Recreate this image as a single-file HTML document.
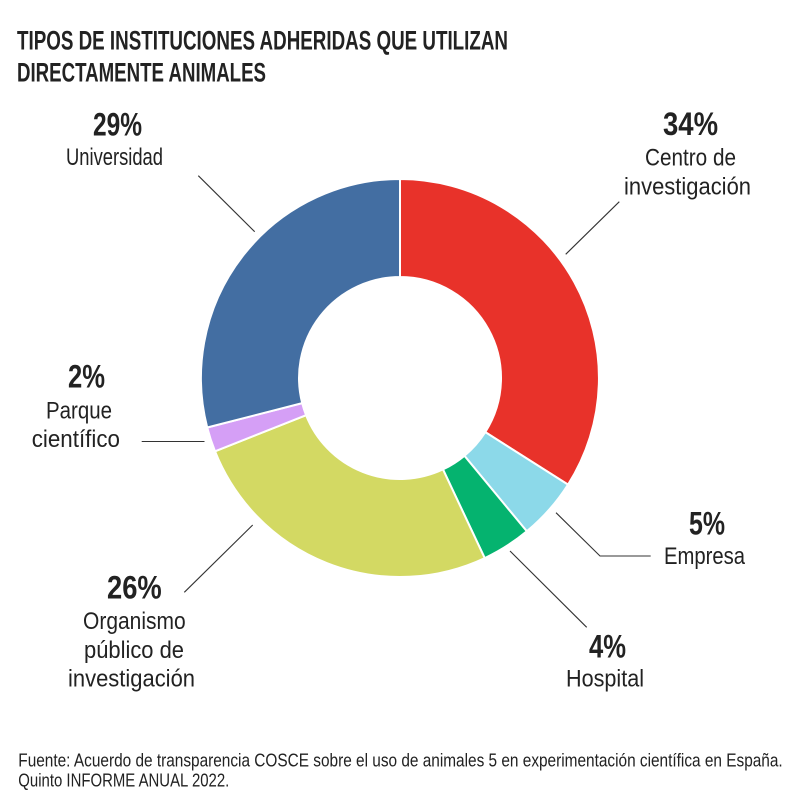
<!DOCTYPE html>
<html>
<head>
<meta charset="utf-8">
<style>
  html, body { margin: 0; padding: 0; background: #ffffff; }
  svg { display: block; }
  text { font-family: "Liberation Sans", sans-serif; fill: #222222; }
  .t { font-weight: bold; font-size: 26.5px; }
  .p { font-weight: bold; font-size: 32px; }
  .l { font-size: 24.5px; }
  .f { font-size: 18px; }
</style>
</head>
<body>
<svg width="800" height="800" viewBox="0 0 800 800" xmlns="http://www.w3.org/2000/svg">
  <rect width="800" height="800" fill="#ffffff"/>

  <!-- Title -->
  <text class="t" x="17" y="49.3" textLength="491" lengthAdjust="spacingAndGlyphs">TIPOS DE INSTITUCIONES ADHERIDAS QUE UTILIZAN</text>
  <text class="t" x="17" y="81.3" textLength="249" lengthAdjust="spacingAndGlyphs">DIRECTAMENTE ANIMALES</text>

  <!-- Donut -->
  <g stroke="#ffffff" stroke-width="2" stroke-linejoin="round">
    <!-- Centro de investigación 34% -->
    <path d="M400,179 A199,199 0 0 1 568.0,484.6 L485.3,432.1 A101,101 0 0 0 400,277 Z" fill="#E8322A"/>
    <!-- Empresa 5% -->
    <path d="M568.0,484.6 A199,199 0 0 1 526.8,531.3 L464.4,455.8 A101,101 0 0 0 485.3,432.1 Z" fill="#8CD9E9"/>
    <!-- Hospital 4% -->
    <path d="M526.8,531.3 A199,199 0 0 1 484.7,558.1 L443.0,469.4 A101,101 0 0 0 464.4,455.8 Z" fill="#05B36F"/>
    <!-- Organismo público 26% -->
    <path d="M484.7,558.1 A199,199 0 0 1 215.0,451.3 L306.1,415.2 A101,101 0 0 0 443.0,469.4 Z" fill="#D3D963"/>
    <!-- Parque científico 2% -->
    <path d="M215.0,451.3 A199,199 0 0 1 207.2,427.5 L302.2,403.1 A101,101 0 0 0 306.1,415.2 Z" fill="#D59FF6"/>
    <!-- Universidad 29% -->
    <path d="M207.2,427.5 A199,199 0 0 1 400,179 L400,277 A101,101 0 0 0 302.2,403.1 Z" fill="#436EA2"/>
  </g>

  <!-- Leader lines -->
  <g stroke="#333333" stroke-width="1.1" fill="none">
    <line x1="198.3" y1="175.7" x2="254.7" y2="231.7"/>
    <line x1="619.3" y1="201.7" x2="565.7" y2="254.3"/>
    <line x1="141.7" y1="441.5" x2="204.5" y2="441.5"/>
    <line x1="184.3" y1="592.3" x2="252.7" y2="525"/>
    <polyline points="556,512.7 600,556 650.7,556"/>
    <line x1="510" y1="551" x2="586.7" y2="627.3"/>
  </g>

  <!-- Labels -->
  <text class="p" x="93" y="135.5" textLength="49" lengthAdjust="spacingAndGlyphs">29%</text>
  <text class="l" x="66" y="165" textLength="97" lengthAdjust="spacingAndGlyphs">Universidad</text>

  <text class="p" x="663" y="135" textLength="55" lengthAdjust="spacingAndGlyphs">34%</text>
  <text class="l" x="645" y="165.5" textLength="91" lengthAdjust="spacingAndGlyphs">Centro de</text>
  <text class="l" x="624" y="194.3" textLength="127" lengthAdjust="spacingAndGlyphs">investigación</text>

  <text class="p" x="68" y="387.7" textLength="37" lengthAdjust="spacingAndGlyphs">2%</text>
  <text class="l" x="46" y="418.3" textLength="66" lengthAdjust="spacingAndGlyphs">Parque</text>
  <text class="l" x="31.7" y="447" textLength="88.3" lengthAdjust="spacingAndGlyphs">científico</text>

  <text class="p" x="107" y="598.3" textLength="54.7" lengthAdjust="spacingAndGlyphs">26%</text>
  <text class="l" x="83" y="629" textLength="102.7" lengthAdjust="spacingAndGlyphs">Organismo</text>
  <text class="l" x="84" y="658" textLength="100" lengthAdjust="spacingAndGlyphs">público de</text>
  <text class="l" x="68" y="686.7" textLength="127" lengthAdjust="spacingAndGlyphs">investigación</text>

  <text class="p" x="689" y="534.3" textLength="36" lengthAdjust="spacingAndGlyphs">5%</text>
  <text class="l" x="664" y="564" textLength="81" lengthAdjust="spacingAndGlyphs">Empresa</text>

  <text class="p" x="589" y="657.7" textLength="37" lengthAdjust="spacingAndGlyphs">4%</text>
  <text class="l" x="566" y="686.7" textLength="78" lengthAdjust="spacingAndGlyphs">Hospital</text>

  <!-- Footer -->
  <text class="f" x="18.3" y="766.7" textLength="764.4" lengthAdjust="spacingAndGlyphs">Fuente: Acuerdo de transparencia COSCE sobre el uso de animales 5 en experimentación científica en España.</text>
  <text class="f" x="18.3" y="786.7" textLength="211" lengthAdjust="spacingAndGlyphs">Quinto INFORME ANUAL 2022.</text>
</svg>
</body>
</html>
